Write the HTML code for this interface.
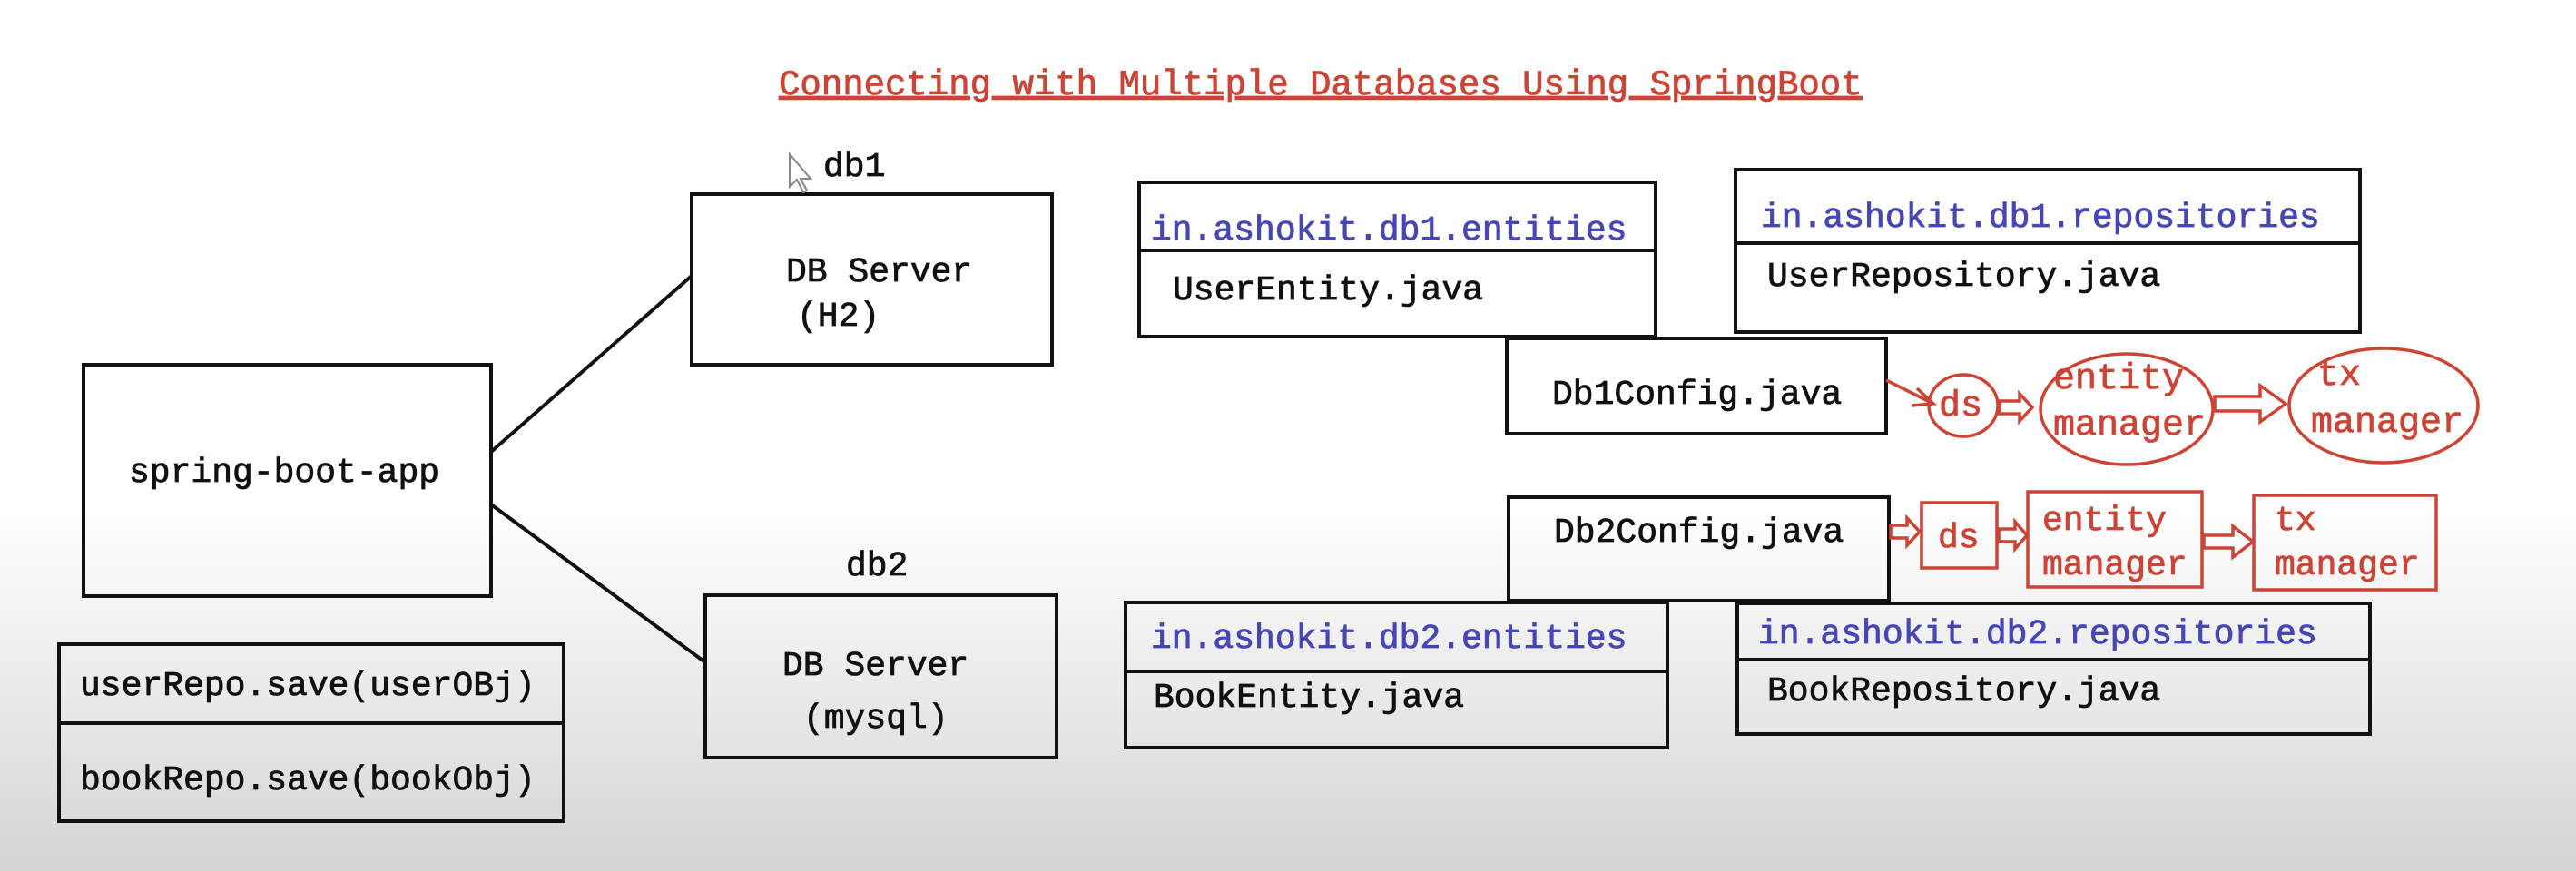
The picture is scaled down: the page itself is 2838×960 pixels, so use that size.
<!DOCTYPE html>
<html><head><meta charset="utf-8"><style>
html,body{margin:0;padding:0;}
body{width:2838px;height:960px;overflow:hidden;background:linear-gradient(to bottom,#ffffff 0px,#ffffff 560px,#e6e6e6 800px,#d4d4d4 960px);}
svg{position:absolute;left:0;top:0;}
text{font-family:"Liberation Mono",monospace;font-size:38px;stroke-width:0.8px;}
.b{fill:#111;stroke:#111;}
.bl{fill:#4646b4;stroke:#4646b4;}
.r{fill:#cc4436;stroke:#cc4436;}
</style></head><body>
<svg width="2838" height="960" viewBox="0 0 2838 960">
<g fill="none" stroke="#111" stroke-width="4">
<rect x="762" y="214" width="397" height="188"/>
<rect x="92" y="402" width="449" height="255"/>
<rect x="777" y="656" width="387" height="179"/>
<rect x="65" y="710" width="556" height="87"/>
<rect x="65" y="797" width="556" height="108"/>
<line x1="541" y1="498" x2="762" y2="304"/>
<line x1="541" y1="556" x2="777" y2="730"/>
<rect x="1255" y="201" width="569" height="170"/>
<line x1="1255" y1="276" x2="1824" y2="276"/>
<rect x="1912" y="187" width="688" height="179"/>
<line x1="1912" y1="268" x2="2600" y2="268"/>
<rect x="1660" y="373" width="418" height="105" fill="#fff"/>
<rect x="1662" y="548" width="419" height="114"/>
<rect x="1240" y="664" width="597" height="160"/>
<line x1="1240" y1="740" x2="1837" y2="740"/>
<rect x="1914" y="665" width="697" height="144"/>
<line x1="1914" y1="727" x2="2611" y2="727"/>
</g>
<g fill="none" stroke="#cc4436" stroke-width="3.5">
<ellipse cx="2163" cy="447" rx="38" ry="34"/>
<ellipse cx="2343" cy="451" rx="95" ry="61"/>
<ellipse cx="2626" cy="447" rx="104" ry="63"/>
<path d="M2078 419 L2130 445 M2112 428 L2130 445 L2106 447"/>
<path d="M2203 442 h22 v-8 l14 15 l-14 15 v-8 h-22 z"/>
<path d="M2440 437 h50 v-12 l28 20 l-28 20 v-12 h-50 z"/>
<rect x="2117" y="554" width="83" height="72"/>
<rect x="2234" y="542" width="192" height="105"/>
<rect x="2483" y="546" width="201" height="104"/>
<path d="M2083 579 h18 v-8 l14 15 l-14 15 v-8 h-18 z"/>
<path d="M2202 583 h18 v-8 l13 15 l-13 15 v-8 h-18 z"/>
<path d="M2428 590 h32 v-10 l22 17 l-22 17 v-10 h-32 z"/>
</g>
<text x="858" y="104" class="r" style="font-size:39px;text-decoration:underline">Connecting with Multiple Databases Using SpringBoot</text>
<path d="M870 170 l0 36 l8 -8 l7 14 l4 -2 l-7 -13 l11 0 z" fill="#fff" stroke="#888" stroke-width="2"/>
<text x="907" y="194" class="b">db1</text>
<text x="866" y="310" class="b">DB Server</text>
<text x="878" y="359" class="b">(H2)</text>
<text x="142" y="531" class="b">spring-boot-app</text>
<text x="932" y="634" class="b">db2</text>
<text x="862" y="744" class="b">DB Server</text>
<text x="885" y="802" class="b">(mysql)</text>
<text x="88" y="766" class="b">userRepo.save(userOBj)</text>
<text x="88" y="870" class="b">bookRepo.save(bookObj)</text>
<text x="1268" y="264" class="bl">in.ashokit.db1.entities</text>
<text x="1292" y="330" class="b">UserEntity.java</text>
<text x="1940" y="250" class="bl">in.ashokit.db1.repositories</text>
<text x="1947" y="315" class="b">UserRepository.java</text>
<text x="1710" y="445" class="b">Db1Config.java</text>
<text x="1712" y="597" class="b">Db2Config.java</text>
<text x="1268" y="714" class="bl">in.ashokit.db2.entities</text>
<text x="1271" y="779" class="b">BookEntity.java</text>
<text x="1937" y="709" class="bl">in.ashokit.db2.repositories</text>
<text x="1947" y="772" class="b">BookRepository.java</text>
<text x="2136" y="458" class="r" style="font-size:40px">ds</text>
<text x="2262" y="428" class="r" style="font-size:40px">entity</text>
<text x="2262" y="479" class="r" style="font-size:40px">manager</text>
<text x="2553" y="424" class="r" style="font-size:40px">tx</text>
<text x="2546" y="476" class="r" style="font-size:40px">manager</text>
<text x="2135" y="603" class="r">ds</text>
<text x="2250" y="584" class="r">entity</text>
<text x="2250" y="633" class="r">manager</text>
<text x="2506" y="584" class="r">tx</text>
<text x="2506" y="633" class="r">manager</text>
</svg>
</body></html>
